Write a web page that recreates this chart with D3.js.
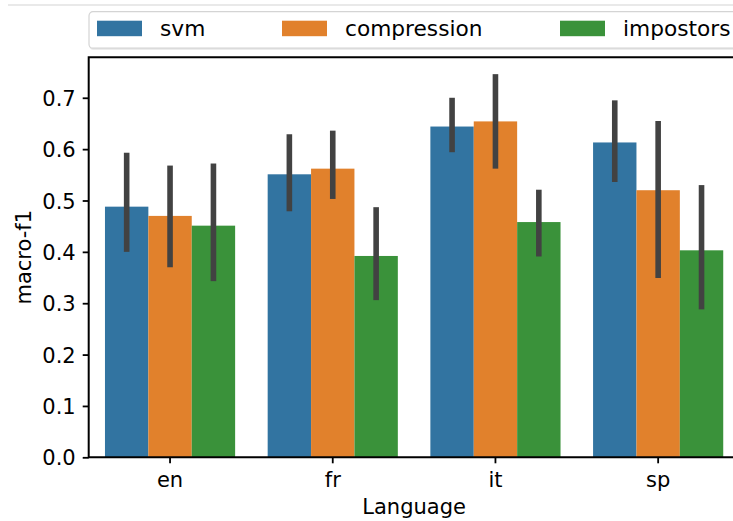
<!DOCTYPE html>
<html>
<head>
<meta charset="utf-8">
<script src="https://cdn.jsdelivr.net/npm/d3@7"></script>
<style>
  html, body { margin: 0; padding: 0; background: #fff; }
  svg { display: block; font-family: "DejaVu Sans", sans-serif; }
</style>
</head>
<body>
<svg id="chart" width="733" height="521"></svg>
<script>
const languages = ["en", "fr", "it", "sp"];
const methods = ["svm", "compression", "impostors"];
const colors = ["#3274a1", "#e1812c", "#3a923a"];
// mean macro-f1 per language, per method
const svmValues = [0.488, 0.551, 0.644, 0.613];
const compressionValues = [0.470, 0.562, 0.654, 0.520];
const impostorsValues = [0.451, 0.392, 0.458, 0.403];
// error bar low / high
const svmLow = [0.400, 0.479, 0.594, 0.536];
const svmHigh = [0.593, 0.629, 0.700, 0.695];
const compressionLow = [0.370, 0.503, 0.562, 0.349];
const compressionHigh = [0.568, 0.636, 0.746, 0.655];
const impostorsLow = [0.343, 0.306, 0.391, 0.288];
const impostorsHigh = [0.572, 0.487, 0.521, 0.530];
const yTicks = [0.0, 0.1, 0.2, 0.3, 0.4, 0.5, 0.6, 0.7];

const seriesValues = [svmValues, compressionValues, impostorsValues];
const seriesLow = [svmLow, compressionLow, impostorsLow];
const seriesHigh = [svmHigh, compressionHigh, impostorsHigh];

const svg = d3.select("#chart");
const plotLeft = 88.7, plotBottom = 457.3, plotTop = 57.2;
const bandW = 162.7;
const x = d3.scaleBand().domain(languages).range([plotLeft, plotLeft + bandW * languages.length]).padding(0);
const y = d3.scaleLinear().domain([0, 0.779]).range([plotBottom, plotTop]);
const barW = x.bandwidth() * 0.8 / methods.length;

const rows = [];
methods.forEach((m, i) => {
  languages.forEach((l, j) => {
    rows.push({m, i, l, v: seriesValues[i][j], lo: seriesLow[i][j], hi: seriesHigh[i][j]});
  });
});

// top faint line
svg.append("line").attr("x1", 8).attr("x2", 733).attr("y1", 5).attr("y2", 5)
  .attr("stroke", "#e2e2e2").attr("stroke-width", 1.5);

// bars
const cx = d => x(d.l) + x.bandwidth() / 2 + (d.i - 1) * barW;
svg.append("g").selectAll("rect").data(rows).join("rect")
  .attr("x", d => cx(d) - barW / 2)
  .attr("width", barW)
  .attr("y", d => y(d.v))
  .attr("height", d => y(0) - y(d.v))
  .attr("fill", d => colors[d.i]);

// error bars
svg.append("g").selectAll("line").data(rows).join("line")
  .attr("x1", cx).attr("x2", cx)
  .attr("y1", d => y(d.lo)).attr("y2", d => y(d.hi))
  .attr("stroke", "#424242").attr("stroke-width", 5.6);

// axes
const yAxis = d3.axisLeft(y).tickValues(yTicks).tickFormat(d3.format(".1f")).tickSize(6).tickPadding(7);
const gy = svg.append("g").attr("transform", `translate(${plotLeft},0)`).call(yAxis);
const xAxis = d3.axisBottom(x).tickSize(6).tickPadding(8);
const gx = svg.append("g").attr("transform", `translate(0,${plotBottom})`).call(xAxis);
[gx, gy].forEach(g => {
  g.select(".domain").remove();
  g.selectAll(".tick line").attr("stroke", "#000").attr("stroke-width", 1.8);
  g.selectAll(".tick text").attr("fill", "#000").style("font-size", "21px").style("font-family", "DejaVu Sans");
});
gy.selectAll(".tick text").attr("dy", "0.36em");
gx.selectAll(".tick text").attr("dy", "0.75em");

// spines
const rightEdge = plotLeft + bandW * languages.length;
svg.append("path")
  .attr("d", `M${rightEdge},${plotTop}H${plotLeft}V${plotBottom}H${rightEdge}`)
  .attr("fill", "none").attr("stroke", "#000").attr("stroke-width", 2);

// axis labels
svg.append("text").attr("x", x("fr") + x.bandwidth()).attr("y", 513.5)
  .attr("text-anchor", "middle").style("font-size", "21px").attr("fill", "#000").text("Language");
svg.append("text").attr("transform", `translate(31,${(plotTop + plotBottom) / 2}) rotate(-90)`)
  .attr("text-anchor", "middle").style("font-size", "21px").attr("fill", "#000").text("macro-f1");

// legend
const lg = svg.append("g");
lg.append("rect").attr("x", 89.5).attr("y", 13.5).attr("width", 700).attr("height", 36.5).attr("rx", 4)
  .attr("fill", "#ececec");
lg.append("rect").attr("x", 89).attr("y", 11.7).attr("width", 700).attr("height", 36.5).attr("rx", 4)
  .attr("fill", "#fff").attr("stroke", "#d4d4d4").attr("stroke-width", 1.2);
const legX = [97, 282, 560];
methods.forEach((m, i) => {
  lg.append("rect").attr("x", legX[i]).attr("y", 20.7).attr("width", 45).attr("height", 15.5).attr("fill", colors[i]);
  lg.append("text").attr("x", legX[i] + 63).attr("y", 36).style("font-size", "21.7px").attr("fill", "#000").text(m);
});
</script>
</body>
</html>
